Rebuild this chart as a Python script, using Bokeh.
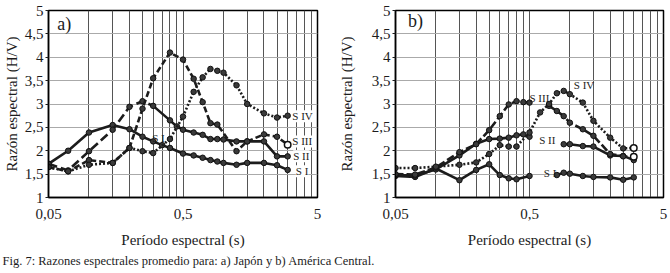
from bokeh.plotting import figure
from bokeh.layouts import column, row
from bokeh.models import Range1d, FixedTicker, CustomJSTickFormatter, Label
from bokeh.embed import file_html
from bokeh.resources import INLINE

GAP = float("nan")

# ---------------- a) Japón ----------------
ja_s1_t = [0.05, 0.07, 0.1, 0.15, 0.2, 0.25, 0.3, 0.35, 0.4, 0.5, 0.6, 0.7, 0.8, 0.9, 1.0, 1.25, 1.5, 2.0, 2.5, 3.0]
ja_s1_v = [1.72, 2.00, 2.39, 2.55, 2.46, 2.30, 2.20, 2.12, 2.06, 1.94, 1.90, 1.85, 1.80, 1.77, 1.74, 1.70, 1.74, 1.74, 1.69, 1.59]

ja_s2_t = [0.05, 0.07, 0.1, 0.15, 0.2, 0.25, 0.3, 0.4, 0.45, 0.5, 0.6, 0.7, 0.8, 0.9, 1.0, 1.25, 1.5, 2.0, 2.5, 3.0]
ja_s2_v = [1.72, 1.58, 1.99, 2.45, 2.94, 3.06, 2.96, 2.65, 2.52, 2.45, 2.39, 2.34, 2.25, 2.25, 2.24, 2.20, 2.20, 2.20, 1.88, 1.88]
ja_s2_dashed_until = 7  # first points drawn with long dashes

ja_s3_t = [0.05, 0.07, 0.1, 0.15, 0.2, 0.25, 0.3, 0.4, 0.5, 0.6, 0.7, 0.8, 0.9, 1.25, 1.5, 2.0, 2.5, 3.0]
ja_s3_v = [1.65, 1.56, 1.80, 1.74, 2.06, 2.90, 3.55, 4.10, 3.95, 3.54, 3.04, 2.59, 2.56, 1.99, 2.20, 2.35, 2.30, 2.13]

ja_s4_t = [0.05, 0.07, 0.1, 0.15, 0.2, 0.25, 0.3, 0.4, 0.5, 0.6, 0.7, 0.8, 0.9, 1.0, 1.25, 1.5, 2.0, 2.5, 3.0]
ja_s4_v = [1.65, 1.56, 1.70, 1.74, 2.06, 1.99, 1.95, 2.25, 2.73, 3.26, 3.57, 3.75, 3.71, 3.67, 3.40, 3.00, 2.80, 2.71, 2.75]

# ---------------- b) America Central ----------------
ac_s1_t = [0.05, 0.07, 0.1, 0.15, 0.2, 0.25, 0.3, 0.35, 0.4, 0.5, GAP, 0.8, 0.9, 1.0, 1.25, 1.5, 2.0, 2.5, 3.0]
ac_s1_v = [1.46, 1.44, 1.62, 1.37, 1.59, 1.71, 1.48, 1.41, 1.39, 1.46, GAP, 1.48, 1.53, 1.51, 1.46, 1.44, 1.43, 1.38, 1.43]

ac_s2_t = [0.05, 0.07, 0.1, 0.15, 0.2, 0.25, 0.3, 0.35, 0.4, 0.45, 0.5, GAP, 0.9, 1.0, 1.25, 1.5, 2.0, 2.5, 3.0]
ac_s2_v = [1.48, 1.47, 1.60, 1.90, 2.15, 2.25, 2.26, 2.28, 2.33, 2.35, 2.30, GAP, 2.14, 2.14, 2.10, 2.09, 1.90, 1.89, 1.80]

ac_s3_t = [0.05, 0.07, 0.1, 0.15, 0.2, 0.25, 0.3, 0.35, 0.4, 0.45, 0.5, GAP, 0.7, 0.8, 0.9, 1.0, 1.25, 1.5, 2.0, 2.5, 3.0]
ac_s3_v = [1.50, 1.49, 1.64, 1.97, 2.14, 2.44, 2.74, 2.99, 3.06, 3.04, 3.03, GAP, 2.96, 2.85, 2.74, 2.60, 2.46, 2.32, 1.93, 1.88, 1.87]

ac_s4_t = [0.05, 0.07, 0.1, 0.15, 0.2, 0.25, 0.3, 0.35, 0.4, 0.5, 0.6, 0.7, 0.8, 0.9, 1.0, 1.25, 1.5, 2.0, 2.5, 3.0]
ac_s4_v = [1.63, 1.63, 1.66, 1.70, 1.75, 1.93, 2.12, 2.09, 2.09, 2.39, 2.82, 3.00, 3.23, 3.28, 3.21, 3.03, 2.64, 2.28, 2.05, 2.06]

# axes / grid
x_tick_values = [0.05, 0.5, 5]
x_grid_values = [0.05, 0.1, 0.15, 0.2, 0.25, 0.3, 0.35, 0.4, 0.45, 0.5,
                 1.0, 1.5, 2.0, 2.5, 3.0, 3.5, 4.0, 4.5, 5.0]
y_tick_values = [1, 1.5, 2, 2.5, 3, 3.5, 4, 4.5, 5]

x_title = "Período espectral (s)"
y_title = "Razón espectral (H/V)"
caption = "Fig. 7: Razones espectrales promedio para: a) Japón y b) América Central."

SERIF = "Liberation Serif"
INK = "#1c1c1c"
LW = 2.6
MS = 5.5


def make_panel(width, b_left, b_right, b_top, b_bottom, ylab_standoff):
    p = figure(width=width, height=250, x_axis_type="log",
               x_range=Range1d(0.05, 5), y_range=Range1d(1, 5),
               output_backend="svg", toolbar_location=None,
               min_border_left=b_left, min_border_right=b_right,
               min_border_top=b_top, min_border_bottom=b_bottom)
    fmt = CustomJSTickFormatter(code="return String(tick).replace('.', ',');")
    p.xaxis.ticker = FixedTicker(ticks=x_tick_values)
    p.yaxis.ticker = FixedTicker(ticks=y_tick_values)
    p.xaxis.formatter = fmt
    p.yaxis.formatter = fmt
    p.xaxis.minor_tick_line_color = None
    p.yaxis.minor_tick_line_color = None
    p.xaxis.major_tick_line_color = None
    p.yaxis.major_tick_out = 3
    p.yaxis.major_tick_in = 0
    p.yaxis.major_tick_line_color = INK
    p.xaxis.major_label_standoff = 5
    p.yaxis.major_label_standoff = 2
    p.axis.axis_line_color = "black"
    p.axis.axis_line_width = 1.5
    p.axis.major_label_text_font = SERIF
    p.axis.major_label_text_font_size = "15px"
    p.axis.major_label_text_color = INK
    p.axis.axis_label_text_font = SERIF
    p.axis.axis_label_text_font_size = "15px"
    p.axis.axis_label_text_font_style = "normal"
    p.axis.axis_label_text_color = INK
    p.xaxis.axis_label = x_title
    p.yaxis.axis_label = y_title
    p.xaxis.axis_label_standoff = 10
    p.yaxis.axis_label_standoff = ylab_standoff
    p.xgrid.ticker = FixedTicker(ticks=x_grid_values)
    p.xgrid.grid_line_color = "#555555"
    p.ygrid.grid_line_color = "#aaaaaa"
    p.grid.grid_line_width = 1
    p.grid.grid_line_alpha = 1
    p.outline_line_color = "black"
    p.outline_line_width = 1.5
    p.background_fill_color = "white"
    p.border_fill_color = "white"
    return p


def series(p, t, v, dash="solid", open_end=False):
    p.line(t, v, line_color=INK, line_width=LW, line_dash=dash)
    p.scatter(t, v, size=MS, fill_color="#3a3a3a", line_color="#111111", line_width=1)
    if open_end:
        p.scatter(t[-1:], v[-1:], size=MS + 1, fill_color="white", line_color="#111111", line_width=1.5)


def tag(p, x, y, text, size="11px", bg=True):
    p.add_layout(Label(x=x, y=y, text=text, text_font=SERIF, text_font_size=size,
                       text_color=INK, text_baseline="middle", text_align="left",
                       background_fill_color="white" if bg else None))


# ---- panel a
p1 = make_panel(335, 42, 18, 8, 53, 2)
series(p1, ja_s1_t, ja_s1_v, "solid")
k = ja_s2_dashed_until
p1.line(ja_s2_t[:k], ja_s2_v[:k], line_color=INK, line_width=LW, line_dash="9 4")
p1.line(ja_s2_t[k - 1:], ja_s2_v[k - 1:], line_color=INK, line_width=LW, line_dash="solid")
p1.scatter(ja_s2_t, ja_s2_v, size=MS, fill_color="#3a3a3a", line_color="#111111", line_width=1)
series(p1, ja_s3_t, ja_s3_v, "6 3", open_end=True)
series(p1, ja_s4_t, ja_s4_v, "2 2")
tag(p1, 0.058, 4.72, "a)", size="18px", bg=False)
tag(p1, 3.25, 2.74, "S IV")
tag(p1, 3.25, 2.20, "S III")
tag(p1, 3.3, 1.88, "S II")
tag(p1, 3.45, 1.56, "S I")
tag(p1, 0.295, 2.27, "S I", bg=False)

# ---- panel b
p2 = make_panel(335, 55, 7, 10, 51, 14)
series(p2, ac_s1_t, ac_s1_v, "solid")
series(p2, ac_s2_t, ac_s2_v, "solid")
series(p2, ac_s3_t, ac_s3_v, "8 3", open_end=True)
series(p2, ac_s4_t, ac_s4_v, "2 2", open_end=True)
tag(p2, 0.062, 4.78, "b)", size="18px", bg=False)
tag(p2, 1.07, 3.40, "S IV", bg=False)
tag(p2, 0.50, 3.12, "S III", bg=False)
tag(p2, 0.59, 2.24, "S II", bg=False)
tag(p2, 0.64, 1.52, "S I", bg=False)

# ---- caption
pc = figure(width=670, height=23, x_range=Range1d(0, 670), y_range=Range1d(0, 23),
            output_backend="svg", toolbar_location=None, min_border=0)
pc.axis.visible = False
pc.grid.visible = False
pc.outline_line_color = None
pc.add_layout(Label(x=2, y=13, text=caption, text_font=SERIF, text_font_size="12.5px",
                    text_color=INK, text_baseline="middle", text_align="left"))

layout = column(row(p1, p2, spacing=0), pc, spacing=0)
open("out.html", "w").write(file_html(layout, INLINE))
